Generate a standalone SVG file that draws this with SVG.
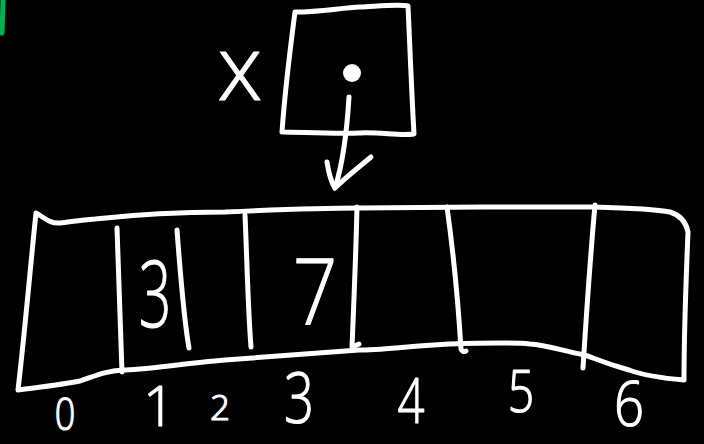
<svg xmlns="http://www.w3.org/2000/svg" width="704" height="444" viewBox="0 0 704 444">
<style>
.ink{fill:none;stroke:#fff;stroke-width:5;stroke-linecap:round;stroke-linejoin:round}
.t{fill:#fff;stroke:#fff;stroke-width:1.2;stroke-linejoin:round;font-family:"Open Sans","Liberation Sans",sans-serif;font-weight:300;text-anchor:middle}
</style>
<rect width="704" height="444" fill="#000"/>
<path d="M3,0 L2,33" stroke="#00b050" stroke-width="5" fill="none" stroke-linecap="round"/>
<g id="pointer-x">
<text class="t" x="240" y="100" font-size="90">x</text>
<path class="ink" d="M295,12 C320,12 340,8 360,7 C380,6 400,4 408,6 C410,50 412,100 414,134 C400,136 380,132 360,133 C330,134 300,132 282,132 C285,90 290,50 295,12 Z"/>
<circle cx="352" cy="73" r="9" fill="#fff"/>
</g>
<g id="array">
<path class="ink" d="M36,213 C45,218 50,224 60,223 C70,222 80,220 95,219 C140,214 190,212 225,212 C270,210 320,208 359,208 C430,207 520,207 593,207 C630,208 655,209 670,212 C680,215 686,222 688,232 C686,280 684,330 684,380 C660,378 640,374 629,370 C600,362 590,356 584,355 C560,350 545,345 530,344 C510,342 480,343 449,344 C400,347 380,350 359,350 C300,354 250,358 225,360 C180,364 140,370 123,370 C105,371 95,376 80,381 C60,385 40,387 18,390 C25,330 30,270 36,213 Z"/>
<path class="ink" d="M117,228 L122,372"/>
<path class="ink" d="M177,230 C180,270 184,320 189,348"/>
<path class="ink" d="M245,215 C247,260 248,310 251,347"/>
<path class="ink" d="M357,207 C356,250 354,300 352,347 L359,344"/>
<path class="ink" d="M447,207 C453,250 458,300 461,349 C462,352 464,352 466,351"/>
<path class="ink" d="M595,205 C590,260 586,320 583,368"/>
<text class="t" font-size="92" transform="translate(155,327) scale(0.62,1)">3</text>
<text class="t" font-size="92" transform="translate(315,325) scale(0.85,1)">7</text>
</g>
<g id="labels">
<text class="t" font-size="45" transform="translate(65,430) scale(0.8,1)">0</text>
<text class="t" font-size="56" x="159" y="426">1</text>
<text class="t" font-size="35" x="220" y="420">2</text>
<text class="t" font-size="70" transform="translate(299,423) scale(0.75,1)">3</text>
<text class="t" font-size="63" transform="translate(411,423) scale(0.75,1)">4</text>
<text class="t" font-size="58" transform="translate(521,412) scale(0.8,1)">5</text>
<text class="t" font-size="62" transform="translate(629,426) scale(0.85,1)">6</text>
</g>
<g id="connectors">
<path class="ink" d="M349,97 C347,130 344,160 335,188"/>
<path class="ink" d="M327,162 C329,175 331,182 335,188 C345,178 358,168 371,157"/>
</g>
</svg>
